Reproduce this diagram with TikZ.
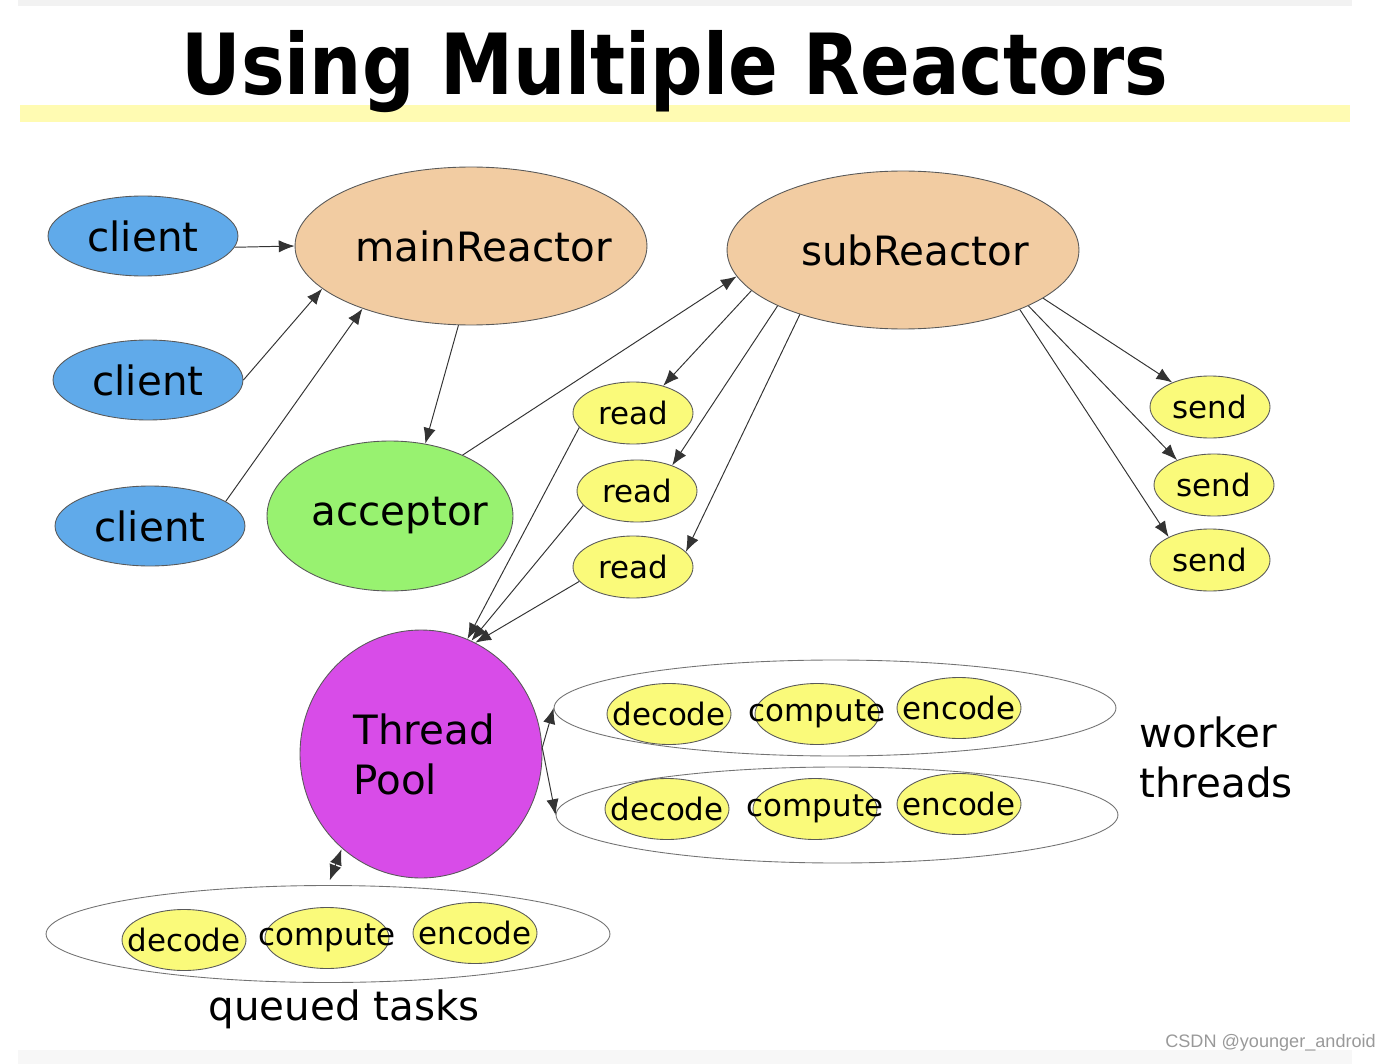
\documentclass[tikz,border=0pt]{standalone}
\usepackage{fontspec}
\setmainfont{DejaVu Sans}
\newfontfamily\marksans{Liberation Sans}
\usetikzlibrary{shapes.geometric,arrows.meta}

\definecolor{clientblue}{RGB}{96,170,234}
\definecolor{reactortan}{RGB}{242,204,162}
\definecolor{acceptgreen}{RGB}{152,242,112}
\definecolor{taskyellow}{RGB}{250,250,122}
\definecolor{poolpurple}{RGB}{216,76,232}
\definecolor{barpale}{RGB}{255,251,178}

\begin{document}
\begin{tikzpicture}[x=0.02cm, y=-0.02cm,
    every node/.style={font=\fontsize{23}{28.5}\selectfont},
    blob/.style={ellipse, draw=black!65, line width=0.5pt, inner sep=0pt},
    clientbox/.style={blob, fill=clientblue, minimum width=3.8cm, minimum height=1.6cm},
    reactorbox/.style={blob, fill=reactortan, minimum width=7.04cm, minimum height=3.16cm, inner xsep=-18pt},
    smallbox/.style={blob, fill=taskyellow, minimum width=2.4cm, minimum height=1.24cm, font=\fontsize{17.6}{20}\selectfont},
    taskbox/.style={smallbox, minimum width=2.48cm, minimum height=1.22cm, inner xsep=-15pt},
    taskgroup/.style={ellipse, draw=black!55, line width=0.5pt, minimum width=11.24cm, minimum height=1.92cm},
    flow/.style={-{Latex[length=9pt,width=7pt]}, line width=0.55pt, draw=black!80}]
    \useasboundingbox (0,0) rectangle (1396,1064);

    % Slide frame and title
    \fill[black!5] (18,0) rectangle (1352,6);
    \fill[black!3] (18,1050) rectangle (1352,1064);
    \fill[barpale] (20,105) rectangle (1350,122);
    \node[font=\fontsize{48}{48}\bfseries\selectfont, anchor=base] (title) at (675,95) {\scalebox{0.87}[1]{Using Multiple Reactors}};

    % Clients
    \node[clientbox] (client1) at (143,236) {client};
    \node[clientbox] (client2) at (148,380) {client};
    \node[clientbox] (client3) at (150,526) {client};

    % Reactors and acceptor
    \node[reactorbox] (mainReactor) at (471,246) {\hspace*{0.5cm}mainReactor};
    \node[reactorbox] (subReactor) at (903,250) {\hspace*{0.48cm}subReactor};
    \node[blob, fill=acceptgreen, minimum width=4.92cm, minimum height=3cm, inner xsep=-16pt] (acceptor) at (390,516) {\hspace*{0.4cm}acceptor};

    % Read and send events
    \node[smallbox] (read1) at (633,413) {read};
    \node[smallbox] (read2) at (637,491) {read};
    \node[smallbox] (read3) at (633,567) {read};
    \node[smallbox] (send1) at (1210,407) {send};
    \node[smallbox] (send2) at (1214,485) {send};
    \node[smallbox] (send3) at (1210,560) {send};

    % Thread pool
    \node[blob, fill=poolpurple, minimum width=4.84cm, minimum height=4.96cm, align=left] (pool) at (421,754) {\hspace*{0.12cm}Thread\\\hspace*{0.12cm}Pool};

    % Worker threads
    \node[taskgroup] (worker1) at (835,708) {};
    \node[taskbox] (decode1) at (669,714) {decode};
    \node[taskbox] (compute1) at (817,714) {compute};
    \node[taskbox] (encode1) at (959,708) {encode};
    \node[taskgroup] (worker2) at (837,815) {};
    \node[taskbox] (decode2) at (667,809) {decode};
    \node[taskbox] (compute2) at (815,809) {compute};
    \node[taskbox] (encode2) at (959,804) {encode};
    \node[anchor=west, align=left] (workerText) at (1133,757) {worker\\threads};

    % Queued tasks
    \node[taskgroup, minimum width=11.28cm, minimum height=1.94cm] (queue) at (328,934) {};
    \node[taskbox] (decode3) at (184,940) {decode};
    \node[taskbox] (compute3) at (327,938) {compute};
    \node[taskbox] (encode3) at (475,933) {encode};
    \node (queueText) at (344,1009) {queued tasks};

    \node[font=\marksans\fontsize{10.3}{12}\selectfont, text=black!40, anchor=east] (mark) at (1382,1043) {CSDN @younger\_android};

    % Edges into the main reactor
    \draw[flow] (client1.-7) -- (mainReactor.west);
    \draw[flow] (client2.east) -- (mainReactor.196);
    \draw[flow] (client3.18) -- (mainReactor.210);
    \draw[flow] (mainReactor.261) -- (acceptor.64);
    \draw[flow] (acceptor.40) -- (subReactor.189);

    % Edges from the sub reactor
    \draw[flow] (subReactor.195) -- (read1.42);
    \draw[flow] (subReactor.204) -- (read2.36);
    \draw[flow] (subReactor.212) -- (read3.16);
    \draw[flow] (subReactor.341) -- (send1.147);
    \draw[flow] (subReactor.336) -- (send2.146);
    \draw[flow] (subReactor.333) -- (send3.151);

    % Edges to and from the pool
    \draw[flow] (read1.195) -- (pool.68);
    \draw[flow] (read2.195) -- (pool.66);
    \draw[flow] (read3.195) -- (pool.64);
    \draw[flow] (pool.3) -- (worker1.west);
    \draw[flow] (pool.3) -- (worker2.west);
    \draw[flow, {Latex[length=9pt,width=7pt]}-{Latex[length=9pt,width=7pt]}, shorten <=0.1cm, shorten >=0.02cm] (queue.north) -- (pool.230);
\end{tikzpicture}
\end{document}
